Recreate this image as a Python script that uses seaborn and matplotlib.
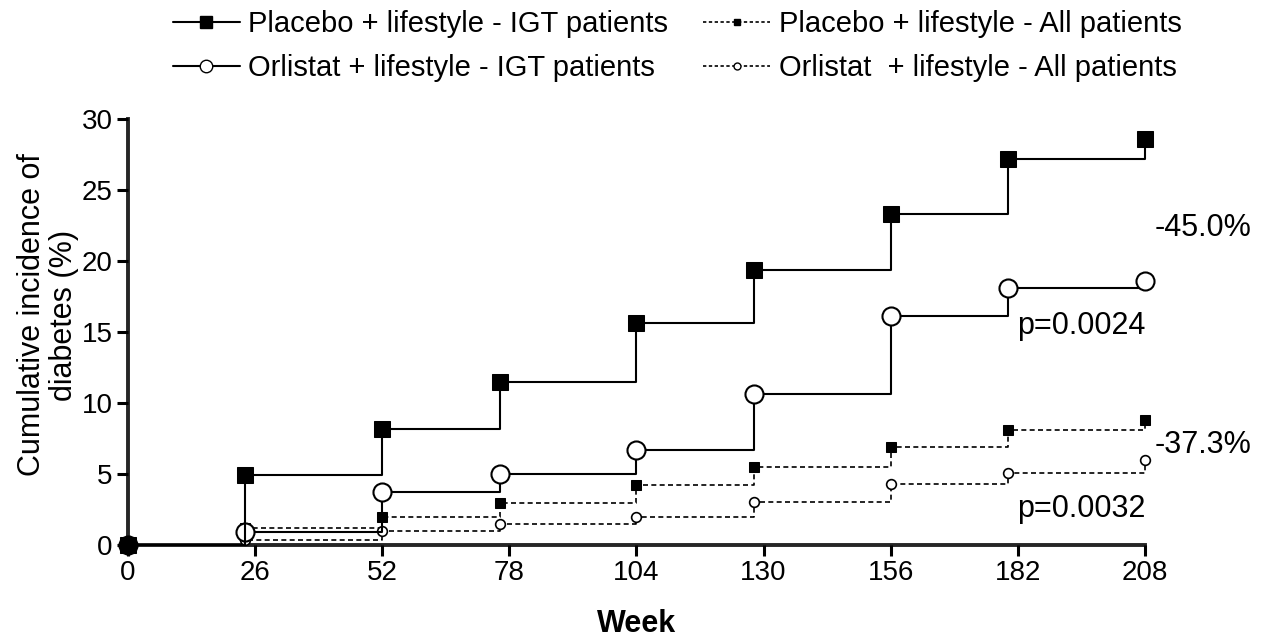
import pandas as pd
import matplotlib
matplotlib.use('Agg')
import matplotlib.pyplot as plt
import seaborn as sns
from matplotlib.lines import Line2D

# Values
weeks = [0, 24, 52, 76, 104, 128, 156, 180, 208]
placebo_igt = [0, 4.9, 8.2, 11.5, 15.6, 19.4, 23.3, 27.2, 28.6]
orlistat_igt = [0, 0.9, 3.7, 5.0, 6.7, 10.6, 16.1, 18.1, 18.6]
placebo_all = [0, 1.2, 2.0, 2.95, 4.2, 5.5, 6.9, 8.1, 8.8]
orlistat_all = [0, 0.35, 1.0, 1.45, 1.95, 3.0, 4.3, 5.1, 6.0]

x_ticks = [0, 26, 52, 78, 104, 130, 156, 182, 208]
y_ticks = [0, 5, 10, 15, 20, 25, 30]

labels = ['Placebo + lifestyle - IGT patients',
          'Orlistat + lifestyle - IGT patients',
          'Placebo + lifestyle - All patients',
          'Orlistat  + lifestyle - All patients']

sns.set_style('ticks')
plt.rcParams['font.family'] = ['Liberation Sans', 'DejaVu Sans']
plt.rcParams['text.color'] = 'black'
plt.rcParams['axes.labelcolor'] = 'black'
plt.rcParams['xtick.color'] = 'black'
plt.rcParams['ytick.color'] = 'black'

fig = plt.figure(figsize=(12.66, 6.37), dpi=100)
ax = fig.add_axes([0.1011, 0.1444, 0.8033, 0.6688])

df = pd.DataFrame({'week': weeks, 'p_igt': placebo_igt, 'o_igt': orlistat_igt,
                   'p_all': placebo_all, 'o_all': orlistat_all})

# dashed "all patients" series first, IGT on top
sns.lineplot(data=df, x='week', y='p_all', ax=ax, drawstyle='steps-post',
             color='black', lw=1.2, linestyle=(0, (3, 2)), marker='s', markersize=7,
             markerfacecolor='black', markeredgecolor='black', clip_on=False)
sns.lineplot(data=df, x='week', y='o_all', ax=ax, drawstyle='steps-post',
             color='black', lw=1.2, linestyle=(0, (3, 2)), marker='o', markersize=7,
             markerfacecolor='white', markeredgecolor='black', markeredgewidth=1.2,
             clip_on=False)
sns.lineplot(data=df, x='week', y='o_igt', ax=ax, drawstyle='steps-post',
             color='black', lw=1.5, marker='o', markersize=13,
             markerfacecolor='white', markeredgecolor='black', markeredgewidth=1.5,
             clip_on=False)
sns.lineplot(data=df, x='week', y='p_igt', ax=ax, drawstyle='steps-post',
             color='black', lw=1.5, marker='s', markersize=12,
             markerfacecolor='black', markeredgecolor='black', clip_on=False)

ax.set_xlim(0, 208)
ax.set_ylim(0, 30)
ax.set_xticks(x_ticks)
ax.set_yticks(y_ticks)
ax.tick_params(axis='both', labelsize=20, length=8, width=2.2, direction='out', pad=3)
sns.despine(ax=ax)
for side in ['left', 'bottom']:
    ax.spines[side].set_linewidth(2.8)
    ax.spines[side].set_zorder(0)

ax.set_xlabel('Week', fontsize=22, fontweight='bold', labelpad=16)
ax.set_ylabel('Cumulative incidence of\ndiabetes (%)', fontsize=22,
              linespacing=1.1)
ax.yaxis.set_label_coords(-0.048, 0.54)

ax.text(1.0095, 0.743, '-45.0%', transform=ax.transAxes, fontsize=22, va='center', ha='left')
ax.text(1.0, 0.514, 'p=0.0024', transform=ax.transAxes, fontsize=22, va='center', ha='right')
ax.text(1.0095, 0.235, '-37.3%', transform=ax.transAxes, fontsize=22, va='center', ha='left')
ax.text(1.0, 0.085, 'p=0.0032', transform=ax.transAxes, fontsize=22, va='center', ha='right')

handles = [
    Line2D([], [], color='black', lw=1.5, marker='s', markersize=9),
    Line2D([], [], color='black', lw=1.5, marker='o', markersize=9,
           markerfacecolor='white'),
    Line2D([], [], color='black', lw=1.2, linestyle=(0, (2, 1.5)), marker='s', markersize=5),
    Line2D([], [], color='black', lw=1.2, linestyle=(0, (2, 1.5)), marker='o', markersize=5,
           markerfacecolor='white'),
]
fig.legend(handles, labels, ncol=2, loc='upper center', bbox_to_anchor=(0.535, 1.025),
           frameon=False, fontsize=21, handlelength=2.3, handletextpad=0.3,
           columnspacing=1.2, labelspacing=0.55)

fig.savefig('out.png', dpi=100)
